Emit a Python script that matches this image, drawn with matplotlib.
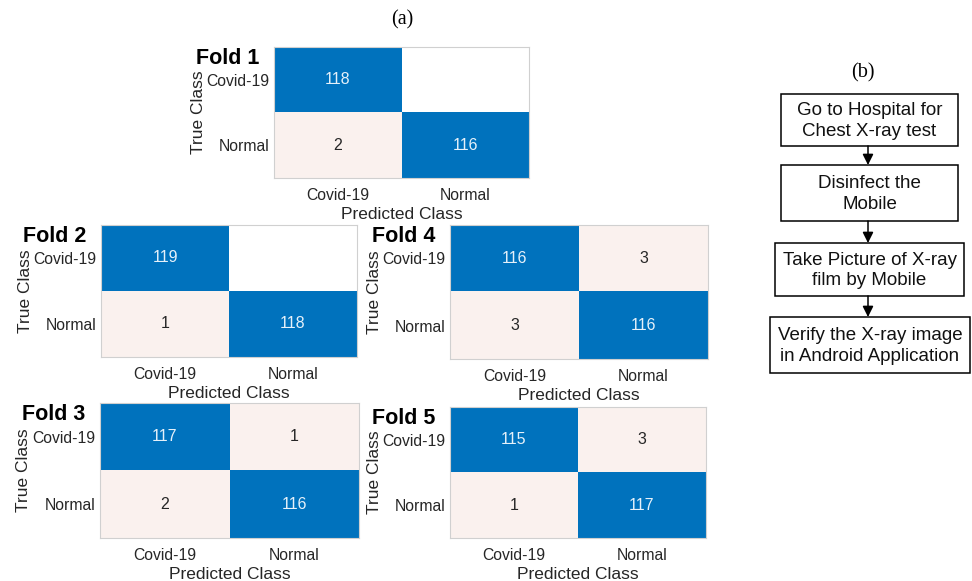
import numpy as np
import matplotlib
matplotlib.use("Agg")
import matplotlib.pyplot as plt
from matplotlib.colors import ListedColormap, BoundaryNorm
from matplotlib.patches import Rectangle

plt.rcParams['font.family'] = ['Liberation Sans', 'DejaVu Sans']

# Datos de las matrices de confusion
clases = ["Covid-19", "Normal"]
fold1 = [[118, 0], [2, 116]]
fold2 = [[119, 0], [1, 118]]
fold3 = [[117, 1], [2, 116]]
fold4 = [[116, 3], [3, 116]]
fold5 = [[115, 3], [1, 117]]

# Pasos del diagrama de flujo
pasos = ["Go to Hospital for\nChest X-ray test",
         "Disinfect the\nMobile",
         "Take Picture of X-ray\nfilm by Mobile",
         "Verify the X-ray image\nin Android Application"]

W, H = 972, 581
fig = plt.figure(figsize=(W / 100, H / 100), dpi=100)

# posiciones en pixeles: izquierda, derecha, arriba, abajo
paneles = [
    ("Fold 1", fold1, (274, 529, 47, 178)),
    ("Fold 2", fold2, (101, 357, 225, 357)),
    ("Fold 4", fold4, (450, 708, 225, 359)),
    ("Fold 3", fold3, (100, 359, 403, 538)),
    ("Fold 5", fold5, (450, 706, 407, 538)),
]

cmap = ListedColormap(["#FFFFFF", "#FAF1EE", "#0072BD"])
norm = BoundaryNorm([-0.5, 0.5, 50, 1000], cmap.N)

for nombre, cm, (l, r, t, b) in paneles:
    ax = fig.add_axes([l / W, 1 - b / H, (r - l) / W, (b - t) / H])
    cm = np.array(cm)
    ax.imshow(cm, cmap=cmap, norm=norm, aspect='auto')
    for i in range(2):
        for j in range(2):
            if cm[i, j] == 0:
                continue
            color = "#E6F1FA" if cm[i, j] > 50 else "#262626"
            ax.text(j, i, str(cm[i, j]), ha='center', va='center',
                    fontsize=11.5, color=color)
    ax.set_xticks([0, 1])
    ax.set_yticks([0, 1])
    ax.set_xticklabels(clases, fontsize=11.3, color="#262626")
    ax.set_yticklabels(clases, fontsize=11.3, color="#262626")
    ax.tick_params(length=0, pad=3)
    ax.tick_params(axis='x', pad=7)
    ax.set_xlabel("Predicted Class", fontsize=12.5, color="#262626", labelpad=3)
    ax.set_ylabel("True Class", fontsize=12.5, color="#262626")
    ax.yaxis.set_label_coords(-0.265, 0.5)
    for s in ax.spines.values():
        s.set_color("#D0D0D0")
        s.set_linewidth(0.8)
    ax.annotate(nombre, xy=(0, 1), xycoords='axes fraction',
                xytext=(-10.5, -12.5), textcoords='offset points',
                ha='right', va='baseline', fontsize=15.5, fontweight='bold')

# capa para textos sueltos y el diagrama de flujo
ov = fig.add_axes([0, 0, 1, 1])
ov.set_xlim(0, W)
ov.set_ylim(H, 0)
ov.axis('off')

ov.text(402, 20, "(a)", ha='center', va='center', fontsize=14.5,
        family=['Liberation Serif'])
ov.text(863, 73, "(b)", ha='center', va='center', fontsize=14.5,
        family=['Liberation Serif'])

cajas = [(781, 958, 94, 146), (781, 958, 165, 221),
         (775, 964, 243, 296), (770, 970, 317, 373)]
xc = 868
for k, (texto, (l, r, t, b)) in enumerate(zip(pasos, cajas)):
    ov.add_patch(Rectangle((l, t), r - l, b - t, fill=False,
                           edgecolor='black', linewidth=1.1))
    ov.text((l + r) / 2, (t + b) / 2 + 1, texto, ha='center', va='center',
            fontsize=13.5, linespacing=1.3, color="#111111")
    if k < len(cajas) - 1:
        sig = cajas[k + 1]
        ov.annotate("", xy=(xc, sig[2]), xytext=(xc, b),
                    arrowprops=dict(arrowstyle='-|>', color='black',
                                    lw=1.1, mutation_scale=16,
                                    shrinkA=0, shrinkB=0))

fig.savefig("out.png", dpi=100)
